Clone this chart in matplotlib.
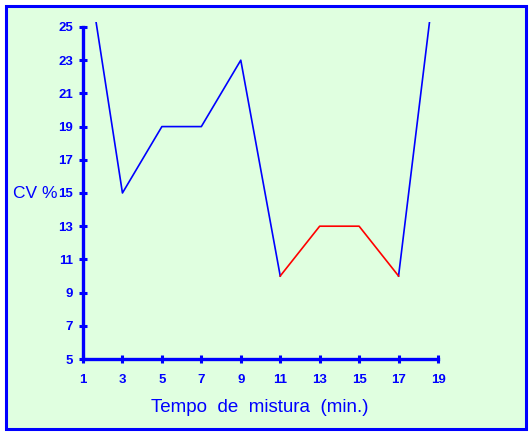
import matplotlib.pyplot as plt
from matplotlib.patches import Rectangle

plt.rcParams['font.family'] = ['Liberation Sans', 'DejaVu Sans']

# mixing time (min) and CV %
tempo = [1, 3, 5, 7, 9, 11, 13, 15, 17, 19]
cv = [30.4, 15, 19, 19, 23, 10, 13, 13, 10, 29.5]
# range drawn in red
red_start, red_end = 5, 8

xticks = [1, 3, 5, 7, 9, 11, 13, 15, 17, 19]
yticks = [5, 7, 9, 11, 13, 15, 17, 19, 21, 23, 25]

blue = '#0000ff'
W, H = 531, 434

fig = plt.figure(figsize=(W / 100, H / 100), dpi=100)
fig.patch.set_facecolor('white')
fig.patches.append(Rectangle((5.5 / W, 5 / H), 520 / W, 423.5 / H,
                             transform=fig.transFigure, facecolor='#e0ffe0',
                             edgecolor=blue, linewidth=2.2, zorder=-10))

ax = fig.add_axes([83 / W, 75 / H, 355 / W, 337 / H])
ax.set_facecolor('none')
ax.plot(tempo[:red_start + 1], cv[:red_start + 1], color=blue, lw=1.2, zorder=3)
ax.plot(tempo[red_end:], cv[red_end:], color=blue, lw=1.2, zorder=3)
ax.plot(tempo[red_start:red_end + 1], cv[red_start:red_end + 1],
        color='#ff0000', lw=1.2, zorder=4)

ax.set_xlim(1, 19)
ax.set_ylim(5, 25.3)
ax.set_xticks(xticks)
ax.set_yticks(yticks)
for s in ['top', 'right']:
    ax.spines[s].set_visible(False)
for s in ['left', 'bottom']:
    ax.spines[s].set_color(blue)
    ax.spines[s].set_linewidth(2.4)
ax.spines['left'].set_bounds(5, 25)
ax.tick_params(direction='inout', length=6, width=2.2, color=blue,
               labelcolor=blue, labelsize=9.5)
ax.tick_params(axis='x', pad=8)
ax.tick_params(axis='y', pad=4)
for lab in ax.get_xticklabels() + ax.get_yticklabels():
    lab.set_fontweight('bold')

fig.text(13 / W, 1 - 193 / H, 'CV %', color=blue, fontsize=12.5,
         ha='left', va='center')
fig.text(260 / W, 1 - 408 / H, 'Tempo  de  mistura  (min.)', color=blue,
         fontsize=13.5, ha='center', va='center')

fig.savefig('out.png', dpi=100)
